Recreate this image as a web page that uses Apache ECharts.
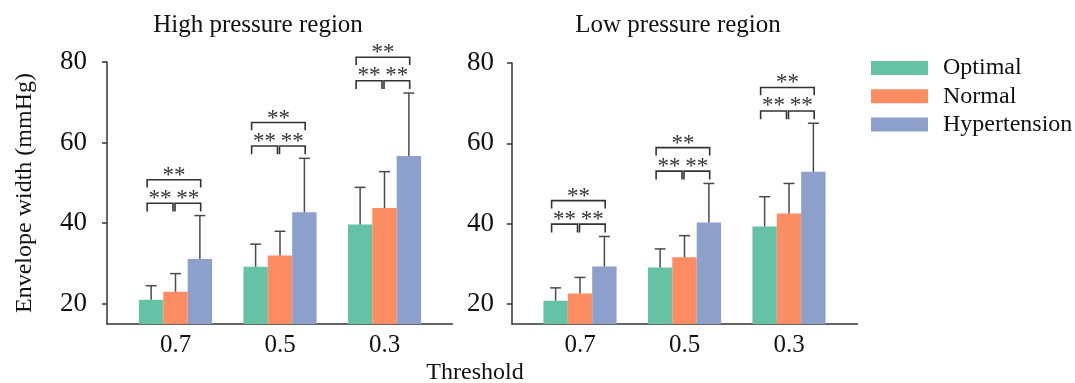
<!DOCTYPE html>
<html>
<head>
<meta charset="utf-8">
<script src="https://cdn.jsdelivr.net/npm/echarts@6/dist/echarts.min.js"></script>
<style>html,body{margin:0;padding:0;background:#fff;}#c{width:1075px;height:383px;}</style>
</head>
<body>
<div id="c"></div>
<script>
// ---- data ----
const categories = ['0.7', '0.5', '0.3'];
const groupNames = ['Optimal', 'Normal', 'Hypertension'];
const yTicks = [20, 40, 60, 80];
// High pressure region: means and upper error-bar ends
const highOptimal = [21.0, 29.2, 39.7];
const highNormal = [23.0, 32.0, 43.8];
const highHyper = [31.1, 42.7, 56.7];
const highOptimalUpper = [24.5, 34.8, 48.9];
const highNormalUpper = [27.5, 38.0, 52.8];
const highHyperUpper = [41.9, 56.1, 72.3];
// Low pressure region
const lowOptimal = [20.8, 29.1, 39.3];
const lowNormal = [22.6, 31.6, 42.5];
const lowHyper = [29.3, 40.3, 52.9];
const lowOptimalUpper = [24.0, 33.7, 46.7];
const lowNormalUpper = [26.6, 37.0, 50.0];
const lowHyperUpper = [36.8, 50.0, 65.0];
const sigLabel = '**';

const colors = ['#66c2a5', '#fc8d62', '#8da0cb'];
const FONT = "'Liberation Serif','Times New Roman',serif";
const AX = '#333';

const chart = echarts.init(document.getElementById('c'));

function errData(means, uppers) {
  const out = [];
  means.forEach((m, s) => m.forEach((v, i) => out.push([i, s, v, uppers[s][i]])));
  return out;
}
function bracketData(uppers) {
  return categories.map((c, i) => [i, Math.max(...uppers.map(u => u[i]))]);
}
function barWidth(api) {
  const bw = api.size([1, 0])[0];
  return bw * 0.7 / 3;
}
function renderErr(params, api) {
  const cat = api.value(0), s = api.value(1), m = api.value(2), u = api.value(3);
  const barW = barWidth(api);
  const p0 = api.coord([cat, m]), p1 = api.coord([cat, u]);
  const x = p0[0] + (s - 1) * barW;
  const st = { stroke: '#4a4a4a', lineWidth: 1.5 };
  return {
    type: 'group', children: [
      { type: 'line', shape: { x1: x, y1: p0[1], x2: x, y2: p1[1] }, style: st },
      { type: 'line', shape: { x1: x - 5.5, y1: p1[1], x2: x + 5.5, y2: p1[1] }, style: st }
    ]
  };
}
function renderBracket(params, api) {
  const cat = api.value(0), top = api.value(1);
  const barW = barWidth(api);
  const p = api.coord([cat, top]);
  const gc = p[0] - barW, oc = p[0], bc = p[0] + barW;
  const legB = p[1] - 4;
  const h1 = legB - 8.3;
  const h2 = h1 - 23.5;
  const legB2 = h2 + 7.8;
  const st = { stroke: '#333', lineWidth: 1.6, fill: null };
  const lx1 = gc - 4, lx2 = oc - 2.5, rx1 = oc - 0.5, rx2 = bc + 0.8;
  const txt = (x, y) => ({ type: 'text', style: { text: sigLabel, x: x, y: y, align: 'center', verticalAlign: 'middle', font: '23px ' + FONT, fill: '#333' } });
  return {
    type: 'group', children: [
      { type: 'polyline', shape: { points: [[lx1, legB], [lx1, h1], [lx2, h1], [lx2, legB]] }, style: st },
      { type: 'polyline', shape: { points: [[rx1, legB], [rx1, h1], [rx2, h1], [rx2, legB]] }, style: st },
      { type: 'polyline', shape: { points: [[lx1, legB2], [lx1, h2], [rx2, h2], [rx2, legB2]] }, style: st },
      txt((lx1 + lx2) / 2, h1 - 4.5),
      txt((rx1 + rx2) / 2, h1 - 4.5),
      txt((lx1 + rx2) / 2, h2 - 4)
    ]
  };
}

const panels = [
  { frameLeft: 107, barLeft: 123.25, top: 62, means: [highOptimal, highNormal, highHyper], uppers: [highOptimalUpper, highNormalUpper, highHyperUpper], showName: true, labelMargin: 20 },
  { frameLeft: 512, barLeft: 527.75, top: 63, means: [lowOptimal, lowNormal, lowHyper], uppers: [lowOptimalUpper, lowNormalUpper, lowHyperUpper], showName: false, labelMargin: 18 }
];

const grid = [], xAxis = [], yAxis = [], series = [];
panels.forEach((p, k) => {
  const fi = grid.length;
  grid.push({ left: p.frameLeft, width: 345.5, top: p.top, height: 324 - p.top });
  const bi = grid.length;
  grid.push({ left: p.barLeft, width: 313.5, top: p.top, height: 324 - p.top });
  xAxis.push({ gridIndex: fi, type: 'value', min: 0, max: 1, axisLine: { show: true, onZero: false, lineStyle: { color: AX, width: 1.5 } }, axisTick: { show: false }, axisLabel: { show: false }, splitLine: { show: false } });
  yAxis.push({
    gridIndex: fi, type: 'value', min: 15, max: 80,
    axisLine: { show: true, lineStyle: { color: AX, width: 1.5 } },
    axisTick: { show: true, length: 5, customValues: yTicks, lineStyle: { color: AX, width: 1.5 } },
    axisLabel: { customValues: yTicks, fontFamily: FONT, fontSize: 27, color: '#111', margin: p.labelMargin },
    splitLine: { show: false },
    name: p.showName ? 'Envelope width (mmHg)' : '', nameLocation: 'middle', nameRotate: 90, nameGap: 70,
    nameTextStyle: { fontFamily: FONT, fontSize: 24, color: '#111' }
  });
  xAxis.push({ gridIndex: bi, type: 'category', data: categories, axisLine: { show: false }, axisTick: { show: false }, axisLabel: { fontFamily: FONT, fontSize: 25, color: '#111', margin: 9 } });
  yAxis.push({ gridIndex: bi, type: 'value', min: 15, max: 80, show: false });
  p.means.forEach((m, s) => {
    series.push({ type: 'bar', name: groupNames[s], xAxisIndex: bi, yAxisIndex: bi, data: m, barGap: '0%', barCategoryGap: '30%', itemStyle: { color: colors[s] }, animation: false });
  });
  series.push({ type: 'custom', xAxisIndex: bi, yAxisIndex: bi, renderItem: renderErr, data: errData(p.means, p.uppers), encode: { x: 0, y: [2, 3] }, z: 5, animation: false, silent: true });
  series.push({ type: 'custom', xAxisIndex: bi, yAxisIndex: bi, renderItem: renderBracket, data: bracketData(p.uppers), encode: { x: 0, y: 1 }, z: 5, animation: false, silent: true });
});

chart.setOption({
  animation: false,
  color: colors,
  grid: grid, xAxis: xAxis, yAxis: yAxis, series: series,
  legend: {
    data: groupNames, orient: 'vertical', left: 866, top: 51, itemWidth: 57, itemHeight: 14, itemGap: 4.3,
    icon: 'rect', textStyle: { fontFamily: FONT, fontSize: 24, color: '#111', padding: [0, 0, 0, 10], lineHeight: 24 }
  },
  graphic: [
    { type: 'text', x: 258, y: 25, style: { text: 'High pressure region', align: 'center', verticalAlign: 'middle', font: '25px ' + FONT, fill: '#111' } },
    { type: 'text', x: 678, y: 25, style: { text: 'Low pressure region', align: 'center', verticalAlign: 'middle', font: '25px ' + FONT, fill: '#111' } },
    { type: 'text', x: 475, y: 373, style: { text: 'Threshold', align: 'center', verticalAlign: 'middle', font: '24px ' + FONT, fill: '#111' } }
  ]
});
</script>
</body>
</html>
